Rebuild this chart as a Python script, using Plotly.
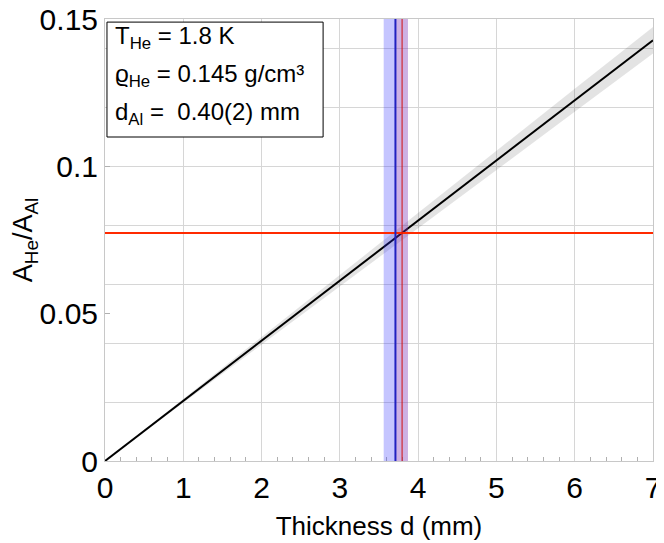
import plotly.graph_objects as go

# Data
thickness = [0, 1, 2, 3, 4, 5, 6, 7]
ratio = [0, 0.0204, 0.0408, 0.0612, 0.0816, 0.1020, 0.1224, 0.1428]
ratio_low = [0, 0.0197, 0.0395, 0.0592, 0.0790, 0.0987, 0.1185, 0.1383]
ratio_high = [0, 0.0211, 0.0421, 0.0632, 0.0842, 0.1053, 0.1263, 0.1473]

measured_ratio = 0.0774          # red horizontal line
d_measured = 3.71                # blue vertical line
d_measured_band = [3.56, 3.87]   # blue band
d_intersect = 3.795              # red vertical line
d_intersect_band = [3.72, 3.87]  # red band

y_ticks = [0, 0.05, 0.1, 0.15]
y_ticklabels = ["0", "0.05", "0.1", "0.15"]

info_lines = [
    "T<sub>He</sub> = 1.8 K",
    "ϱ<sub>He</sub> = 0.145 g/cm³",
    "d<sub>Al</sub> =  0.40(2) mm",
]

FONT = "Liberation Sans, Arial, sans-serif"

fig = go.Figure()

# uncertainty band
fig.add_trace(go.Scatter(x=thickness, y=ratio_high, mode="lines",
                         line=dict(width=0), hoverinfo="skip", showlegend=False))
fig.add_trace(go.Scatter(x=thickness, y=ratio_low, mode="lines", fill="tonexty",
                         fillcolor="rgba(0,0,0,0.11)", line=dict(width=0),
                         hoverinfo="skip", showlegend=False))

# vertical bands
fig.add_vrect(x0=d_measured_band[0], x1=d_measured_band[1],
              fillcolor="rgba(40,40,255,0.27)", line_width=0, layer="above")
fig.add_vrect(x0=d_intersect_band[0], x1=d_intersect_band[1],
              fillcolor="rgba(255,60,60,0.14)", line_width=0, layer="above")

# main line
fig.add_trace(go.Scatter(x=thickness, y=ratio, mode="lines",
                         line=dict(color="black", width=2), showlegend=False))

fig.add_hline(y=measured_ratio, line=dict(color="#ff2a00", width=2))
fig.add_vline(x=d_measured, line=dict(color="#2020c0", width=2))
fig.add_vline(x=d_intersect, line=dict(color="#d01010", width=1))

# info box
fig.add_shape(type="rect", xref="paper", yref="paper",
              x0=0.0036, x1=0.398, y0=0.733, y1=0.993,
              line=dict(color="black", width=1), fillcolor="white", layer="above")
ys = [0.958, 0.872, 0.786]
for t, yy in zip(info_lines, ys):
    fig.add_annotation(text=t, xref="paper", yref="paper", x=0.0146, y=yy,
                       xanchor="left", yanchor="middle", showarrow=False,
                       font=dict(family=FONT, size=24, color="black"))

grid = "#d6d6d6"
fig.update_layout(
    width=656, height=535,
    margin=dict(l=97, r=11, t=11, b=82),
    plot_bgcolor="white", paper_bgcolor="white",
    font=dict(family=FONT, color="black"),
    xaxis=dict(range=[0, 7], dtick=1, tick0=0, showgrid=True, gridcolor=grid,
               zeroline=False, showline=True, linecolor="#c8c8c8", mirror=True,
               ticks="", tickfont=dict(size=30), automargin=False,
               ticklabeloverflow="allow",
               minor=dict(dtick=0.2, ticks="inside", ticklen=4, tickcolor="#b0b0b0",
                          showgrid=False),
               title=dict(text="Thickness d (mm)", font=dict(size=26), standoff=13)),
    yaxis=dict(range=[0, 0.15], tickmode="array", tickvals=y_ticks,
               ticktext=y_ticklabels, showgrid=False,
               zeroline=False, showline=True, linecolor="#c8c8c8", mirror=True,
               ticks="inside", ticklen=5, tickcolor="#b0b0b0", automargin=False,
               tickfont=dict(size=30), ticklabeloverflow="allow",
               minor=dict(dtick=0.02, tick0=0, showgrid=True, gridcolor=grid, ticks=""),
               title=dict(text="A<sub>He</sub>/A<sub>Al</sub>", font=dict(size=27),
                          standoff=8)),
)

fig.write_html("out.html")
